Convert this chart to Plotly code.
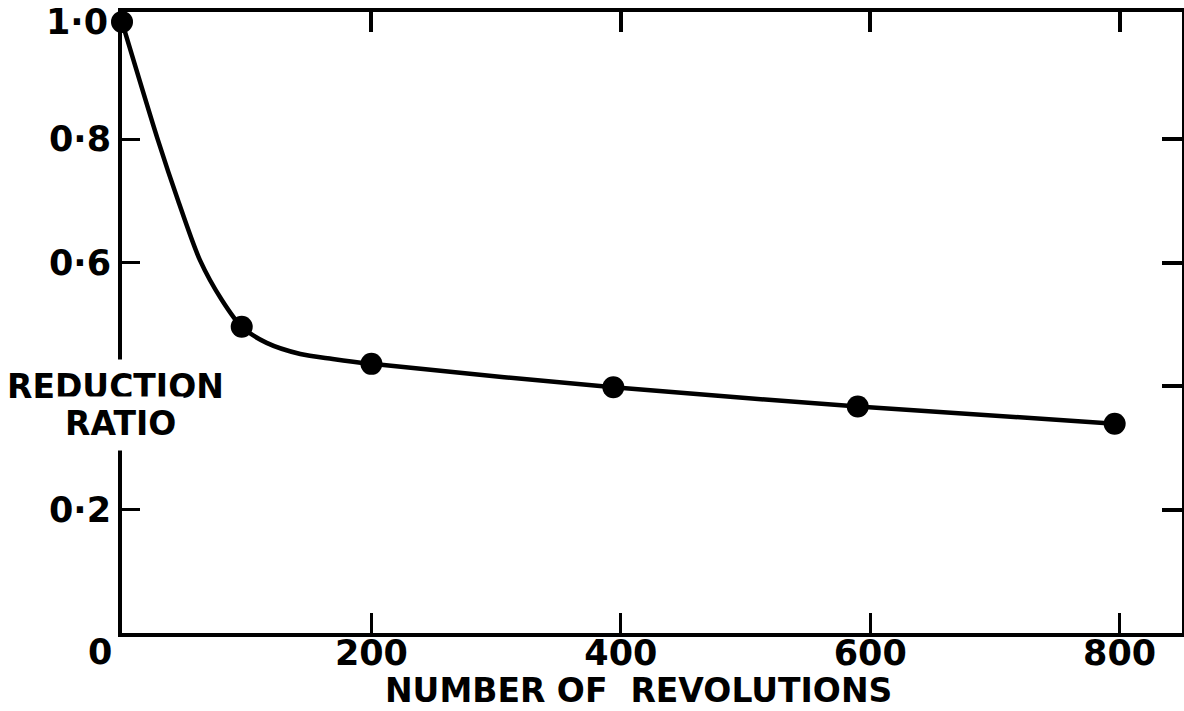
import plotly.graph_objects as go

# Measured points (number of revolutions, reduction ratio)
rev_points = [0, 96, 200, 394, 590, 796]
ratio_points = [0.99, 0.496, 0.436, 0.398, 0.367, 0.339]

# Hand-drawn smooth curve
curve_rev = [0, 28.9, 44.9, 62.5, 80.2, 96, 116, 143, 169, 200, 394, 590, 796]
curve_ratio = [0.99, 0.798, 0.701, 0.604, 0.539, 0.496, 0.47, 0.452, 0.444, 0.436, 0.398, 0.367, 0.339]

x_ticks = [200, 400, 600, 800]
x_ticktext = ["200", "400", "600", "800"]
y_ticks_left = [0.2, 0.6, 0.8]
y_ticktext_left = ["0·2", "0·6", "0·8"]
y_ticks_right = [0.2, 0.4, 0.6, 0.8]

x_title = "NUMBER OF\u00a0 REVOLUTIONS"
y_title_lines = ["REDUCTION", "RATIO"]

FONT = "DejaVu Sans"
XR = [0, 850]
YR = [0, 1.006]

fig = go.Figure()
fig.add_trace(go.Scatter(
    x=curve_rev, y=curve_ratio, mode="lines",
    line=dict(color="black", width=4.5, shape="spline", smoothing=0.8),
    showlegend=False, hoverinfo="skip", cliponaxis=False))
fig.add_trace(go.Scatter(
    x=rev_points, y=ratio_points, mode="markers",
    marker=dict(color="black", size=22),
    showlegend=False, xaxis="x2", yaxis="y2", cliponaxis=False))

tickfont = dict(family=FONT, size=35, color="black", weight="bold")

fig.update_layout(
    width=1184, height=711,
    margin=dict(l=122, r=2, t=12, b=78),
    paper_bgcolor="white", plot_bgcolor="white",
    font=dict(family=FONT, color="black"),
    xaxis=dict(range=XR, showgrid=False, zeroline=False, showline=True,
               linecolor="black", linewidth=4, ticks="inside", ticklen=20,
               tickwidth=3, tickcolor="black", tickvals=x_ticks,
               ticktext=x_ticktext, tickfont=tickfont, ticklabelstandoff=-14),
    yaxis=dict(range=YR, showgrid=False, zeroline=False, showline=True,
               linecolor="black", linewidth=4, ticks="inside", ticklen=18,
               tickwidth=3, tickcolor="black", tickvals=y_ticks_left,
               ticktext=y_ticktext_left, tickfont=tickfont),
    xaxis2=dict(range=XR, overlaying="x", side="top", anchor="y2",
                showgrid=False, zeroline=False, showline=True,
                linecolor="black", linewidth=4, ticks="inside", ticklen=20,
                tickwidth=4, tickcolor="black", tickvals=x_ticks,
                showticklabels=False),
    yaxis2=dict(range=YR, overlaying="y", side="right", anchor="x2",
                showgrid=False, zeroline=False, showline=True,
                linecolor="black", linewidth=1.5, ticks="inside", ticklen=20,
                tickwidth=4, tickcolor="black", tickvals=y_ticks_right,
                showticklabels=False),
)

ann_font = dict(family=FONT, size=33, color="black", weight="bold")
fig.add_annotation(text="1·0", xref="x", yref="y", x=0, y=ratio_points[0],
                   xanchor="right", yanchor="middle", xshift=-12,
                   showarrow=False, font=tickfont)
fig.add_annotation(text="0", xref="x", yref="y", x=0, y=0,
                   xanchor="center", yanchor="middle", xshift=-22, yshift=-19,
                   showarrow=False, font=tickfont)
fig.add_annotation(text=y_title_lines[0], xref="x", yref="y", x=0, y=0.40,
                   xanchor="center", yanchor="middle", xshift=-7,
                   showarrow=False, font=ann_font, bgcolor="white", borderpad=7)
fig.add_annotation(text=y_title_lines[1], xref="x", yref="y", x=0, y=0.34,
                   xanchor="center", yanchor="middle", xshift=-2,
                   showarrow=False, font=ann_font, bgcolor="white", borderpad=7)
fig.add_annotation(text=x_title, xref="paper", yref="paper", x=0.487, y=-0.092,
                   xanchor="center", yanchor="middle",
                   showarrow=False, font=ann_font)

fig.write_html("out.html", config={"displayModeBar": False},
               post_script="document.body.style.margin='0';")
